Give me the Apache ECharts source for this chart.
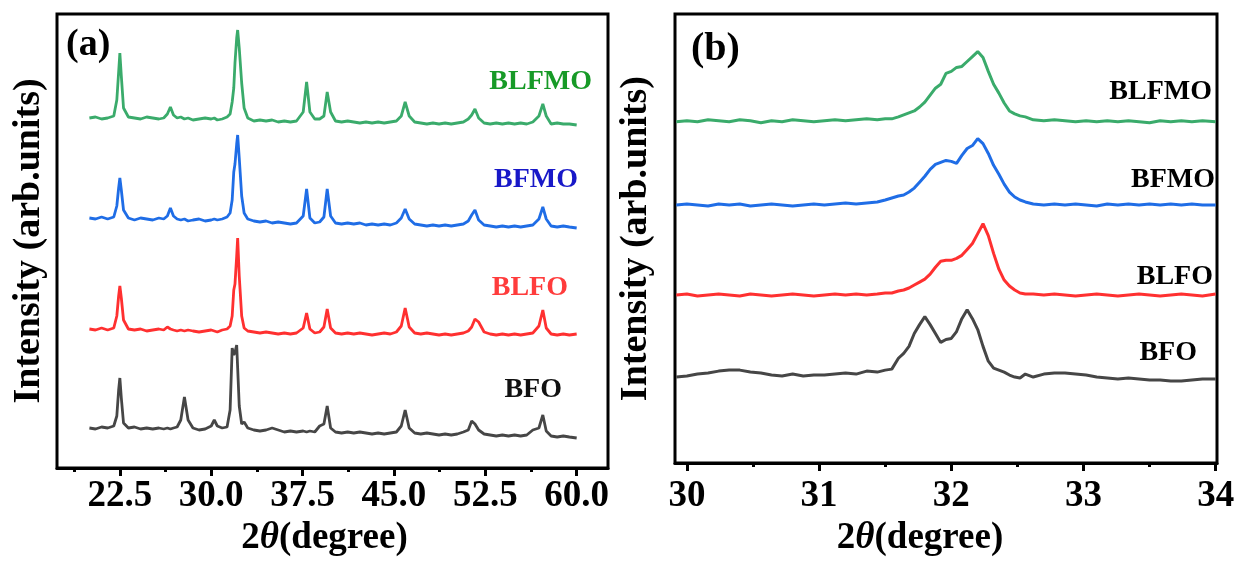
<!DOCTYPE html>
<html lang="en">
<head>
    <meta charset="UTF-8">
    <title>XRD patterns</title>
    <script src="https://cdn.jsdelivr.net/npm/echarts@6/dist/echarts.min.js"></script>
</head>
<style type="text/css">
    html,body{
        margin: 0;
        padding: 0;
        background: #fff;
    }
    #chart{
        width: 1238px;
        height: 562px;
    }
</style>
<body>
<div id="chart"></div>
<script>
    // (a) full scan, 2theta in degree, intensity in arb. units (curves stacked)
    var thetaA = [
        20.0, 20.5, 21.0, 21.5, 22.0, 22.25, 22.4, 22.5, 22.62, 22.8,
        23.2, 23.7, 24.2, 24.7, 25.2, 25.7, 26.1, 26.4, 26.65, 26.9,
        27.2, 27.5, 27.8, 28.1, 28.5, 29.0, 29.5, 30.0, 30.25, 30.5,
        30.9, 31.3, 31.55, 31.72, 31.85, 31.95, 32.09, 32.17, 32.3, 32.5,
        32.7, 33.0, 33.5, 34.0, 34.5, 35.0, 35.5, 36.0, 36.5, 37.0,
        37.55, 37.83, 38.1, 38.5, 38.9, 39.25, 39.52, 39.8, 40.2, 40.7,
        41.2, 41.7, 42.2, 42.7, 43.2, 43.7, 44.2, 44.7, 45.2, 45.6,
        45.92, 46.25, 46.7, 47.2, 47.7, 48.2, 48.7, 49.2, 49.7, 50.2,
        50.7, 51.1, 51.38, 51.65, 51.95, 52.4, 52.9, 53.4, 53.9, 54.4,
        54.9, 55.4, 55.9, 56.4, 56.9, 57.22, 57.5, 57.9, 58.4, 58.9,
        59.4, 60.0
    ];
    var blfmoA = [
        350, 351, 349, 350, 352, 368, 396, 415, 392, 360,
        351, 350, 349, 351, 350, 349, 350, 354, 361, 353,
        350, 351, 349, 350, 348, 349, 350, 349, 350, 348,
        349, 351, 354, 366, 380, 405, 430, 438, 420, 385,
        360, 350, 347, 348, 347, 348, 346, 347, 346, 347,
        356, 386, 356, 349, 349, 352, 376, 356, 347, 346,
        347, 346, 345, 346, 345, 346, 345, 346, 347, 352,
        366, 352, 346, 345, 344, 345, 344, 345, 344, 345,
        346, 349, 353, 359, 350, 345, 344, 345, 344, 345,
        344, 345, 344, 346, 352, 364, 352, 344, 345, 344,
        344, 343
    ];
    var bfmoA = [
        250, 249, 251, 249, 251, 262, 280, 290, 278, 258,
        250, 248, 250, 249, 248, 250, 249, 252, 260, 252,
        249, 248, 249, 247, 248, 249, 247, 248, 249, 248,
        249, 251, 255, 268, 296, 304, 324, 333, 310, 272,
        255, 249, 247, 246, 247, 245, 246, 245, 244, 245,
        252, 279, 250, 245, 246, 251, 279, 252, 245, 244,
        245, 244, 245, 243, 244, 243, 244, 243, 245, 250,
        259, 249, 244, 243, 242, 243, 242, 243, 242, 243,
        244, 247, 253, 258, 248, 243, 242, 241, 242, 241,
        242, 241, 242, 243, 249, 261, 249, 242, 241, 242,
        241, 240
    ];
    var blfoA = [
        139, 138, 140, 138, 140, 152, 172, 182, 170, 148,
        139, 138, 139, 137, 138, 139, 138, 141, 139, 138,
        137, 138, 137, 138, 137, 136, 137, 138, 137, 136,
        138, 139, 142, 152, 178, 184, 212, 230, 192, 152,
        140, 137, 136, 135, 136, 135, 134, 135, 134, 135,
        140, 155, 139, 135, 136, 141, 159, 140, 135, 134,
        135, 134, 135, 134, 133, 134, 135, 134, 136, 142,
        160, 141, 135, 134, 135, 134, 133, 134, 133, 134,
        135, 137, 141, 149, 146, 136, 134, 133, 134, 133,
        134, 133, 134, 135, 142, 158, 140, 134, 133, 134,
        133, 134
    ];
    var bfoA = [
        40, 39, 41, 40, 42, 52, 78, 90, 70, 45,
        40, 41, 39, 40, 39, 40, 39, 40, 39, 40,
        41, 48, 71, 48, 40, 38, 39, 42, 48, 42,
        40, 41, 58, 120, 113, 116, 123, 100, 62, 44,
        46, 40, 38, 37, 38, 40, 38, 36, 37, 36,
        37, 36, 37, 36, 42, 44, 62, 40, 36, 35,
        36, 35, 36, 35, 34, 35, 34, 35, 36, 42,
        58, 40, 35, 34, 35, 34, 33, 34, 33, 34,
        36, 38, 47, 44, 38, 34, 33, 32, 33, 32,
        33, 32, 33, 38, 40, 53, 37, 32, 31, 32,
        31, 30
    ];
    var ticksA = [22.5, 30, 37.5, 45, 52.5, 60];
    var minorA = [18.75, 26.25, 33.75, 41.25, 48.75, 56.25];

    // (b) zoom on the main peak near 32 degree
    var thetaB = [
        29.92, 30.00, 30.08, 30.16, 30.24, 30.32, 30.40, 30.48, 30.56, 30.64,
        30.72, 30.80, 30.88, 30.96, 31.04, 31.12, 31.20, 31.28, 31.36, 31.44,
        31.50, 31.55, 31.60, 31.64, 31.68, 31.72, 31.76, 31.80, 31.84, 31.88,
        31.92, 31.96, 32.00, 32.04, 32.08, 32.12, 32.16, 32.20, 32.24, 32.28,
        32.32, 32.36, 32.40, 32.44, 32.48, 32.52, 32.56, 32.62, 32.70, 32.78,
        32.86, 32.94, 33.02, 33.10, 33.18, 33.26, 33.34, 33.42, 33.50, 33.58,
        33.66, 33.74, 33.82, 33.90, 34.00
    ];
    var blfmoB = [
        345, 346, 345, 347, 346, 345, 347, 346, 344, 346,
        345, 347, 346, 345, 346, 347, 346, 347, 348, 347,
        348, 348, 350, 352, 354, 356, 360, 365, 372, 379,
        383, 394, 396, 400, 401, 406, 411, 416, 410, 396,
        383, 374, 364, 356, 353, 351, 350, 347, 346, 347,
        346, 345, 346, 345, 346, 345, 346, 345, 344, 346,
        345, 346, 345, 346, 345
    ];
    var bfmoB = [
        261, 262, 261, 260, 262, 261, 262, 260, 261, 262,
        261, 260, 261, 262, 261, 262, 263, 262, 263, 264,
        266, 268, 270, 271, 274, 278, 284, 290, 297, 302,
        304, 306, 305, 303, 311, 318, 321, 328, 323, 313,
        301, 292, 282, 274, 269, 266, 264, 262, 261, 262,
        261, 262, 261, 260, 262, 261, 262, 261, 262, 261,
        262, 261, 262, 261, 261
    ];
    var blfoB = [
        170, 171, 169, 170, 171, 170, 169, 171, 170, 169,
        170, 171, 170, 169, 170, 171, 170, 171, 170, 171,
        172, 172, 174, 175, 177, 180, 183, 186, 191, 198,
        204, 205, 205, 207, 210, 216, 222, 232, 242, 230,
        212, 196, 185, 179, 175, 172, 171, 171, 170, 171,
        170, 169, 170, 171, 170, 169, 170, 171, 170, 169,
        170, 171, 170, 169, 171
    ];
    var bfoB = [
        87, 88, 90, 91, 93, 94, 94, 92, 91, 89,
        88, 90, 88, 89, 89, 90, 91, 90, 93, 92,
        94, 95, 106, 111, 118, 131, 140, 148, 140, 131,
        122, 125, 126, 133, 146, 155, 146, 135, 118, 103,
        96, 94, 92, 89, 87, 86, 90, 87, 90, 91,
        91, 90, 89, 87, 86, 85, 86, 85, 84, 84,
        83, 83, 84, 85, 85
    ];
    var ticksB = [30, 31, 32, 33, 34];
    var minorB = [30.5, 31.5, 32.5, 33.5];

    var names = ['BLFMO', 'BFMO', 'BLFO', 'BFO'];
    var lineColors = ['#3aab6b', '#1f6de6', '#ff3030', '#464646'];
    var labelColorsA = ['#179a27', '#1818c8', '#ff3c3c', '#111111'];

    var serif = '"Liberation Serif", "Times New Roman", serif';

    function pairs(xs, ys) {
        var out = [];
        for (var i = 0; i < xs.length; i++) {
            out.push([xs[i], ys[i]]);
        }
        return out;
    }

    function mainX(grid, min, max, ticks, fmt, labelMargin, nameGap, padRight) {
        return {
            type: 'value',
            gridIndex: grid,
            min: min,
            max: max,
            position: 'bottom',
            axisLine: {show: true, onZero: false, lineStyle: {color: '#000', width: 3}},
            axisTick: {show: true, customValues: ticks, length: 8, lineStyle: {color: '#000', width: 3}},
            axisLabel: {
                show: true,
                customValues: ticks,
                margin: labelMargin,
                formatter: fmt,
                color: '#000',
                fontFamily: serif,
                fontWeight: 'bold',
                fontSize: 37
            },
            splitLine: {show: false},
            name: '2{t|θ}(degree)',
            nameLocation: 'middle',
            nameGap: nameGap,
            nameTextStyle: {
                color: '#000',
                fontFamily: serif,
                fontWeight: 'bold',
                fontSize: 37,
                padding: [0, padRight, 0, 0],
                rich: {
                    t: {color: '#000', fontFamily: serif, fontWeight: 'bold', fontStyle: 'italic', fontSize: 37}
                }
            }
        };
    }

    function minorX(grid, min, max, ticks) {
        return {
            type: 'value',
            gridIndex: grid,
            min: min,
            max: max,
            position: 'bottom',
            axisLine: {show: false},
            axisTick: {show: true, customValues: ticks, length: 4, lineStyle: {color: '#000', width: 3}},
            axisLabel: {show: false},
            splitLine: {show: false}
        };
    }

    function yAx(grid, gap) {
        return {
            type: 'value',
            gridIndex: grid,
            min: 0,
            max: 454,
            axisLine: {show: false},
            axisTick: {show: false},
            axisLabel: {show: false},
            splitLine: {show: false},
            name: 'Intensity (arb.units)',
            nameLocation: 'middle',
            nameRotate: 90,
            nameGap: gap,
            nameTextStyle: {color: '#000', fontFamily: serif, fontWeight: 'bold', fontSize: 38}
        };
    }

    var seriesA = [blfmoA, bfmoA, blfoA, bfoA];
    var seriesB = [blfmoB, bfmoB, blfoB, bfoB];
    var series = [];
    for (var k = 0; k < 4; k++) {
        series.push({
            name: names[k] + ' (a)', type: 'line', xAxisIndex: 0, yAxisIndex: 0,
            showSymbol: false, symbol: 'none',
            lineStyle: {color: lineColors[k], width: 2.8},
            data: pairs(thetaA, seriesA[k])
        });
        series.push({
            name: names[k] + ' (b)', type: 'line', xAxisIndex: 2, yAxisIndex: 1,
            showSymbol: false, symbol: 'none',
            lineStyle: {color: lineColors[k], width: 3},
            data: pairs(thetaB, seriesB[k])
        });
    }

    // sample names and panel letters
    var labA = [[592, 82], [578, 180], [568, 288], [562, 390]];
    var labB = [[1212, 92], [1215, 180], [1213, 277], [1197, 353]];
    var graphics = [
        {type: 'text', x: 66, y: 45, style: {text: '(a)', fill: '#000', font: 'bold 38px ' + serif, verticalAlign: 'middle'}},
        {type: 'text', x: 691, y: 50, style: {text: '(b)', fill: '#000', font: 'bold 40px ' + serif, verticalAlign: 'middle'}}
    ];
    for (var j = 0; j < 4; j++) {
        graphics.push({type: 'text', x: labA[j][0], y: labA[j][1],
            style: {text: names[j], fill: labelColorsA[j], font: 'bold 28px ' + serif, align: 'right', verticalAlign: 'middle'}});
        graphics.push({type: 'text', x: labB[j][0], y: labB[j][1],
            style: {text: names[j], fill: '#000', font: 'bold 28px ' + serif, align: 'right', verticalAlign: 'middle'}});
    }

    var myChart = echarts.init(document.getElementById('chart'), null, {renderer: 'canvas'});
    var options = {
        backgroundColor: '#fff',
        animation: false,
        grid: [
            {left: 57, top: 14, width: 551, height: 454, show: true, borderColor: '#000', borderWidth: 3},
            {left: 675, top: 14, width: 542, height: 454, show: true, borderColor: '#000', borderWidth: 3}
        ],
        xAxis: [
            mainX(0, 17.34, 62.57, ticksA, function (v) { return v.toFixed(1); }, 10, 50, 16),
            minorX(0, 17.34, 62.57, minorA),
            mainX(1, 29.91, 34.01, ticksB, function (v) { return String(v); }, 15, 53, 52),
            minorX(1, 29.91, 34.01, minorB)
        ],
        yAxis: [yAx(0, 9), yAx(1, 20)],
        graphic: graphics,
        series: series
    };
    myChart.setOption(options);
</script>
</body>
</html>
